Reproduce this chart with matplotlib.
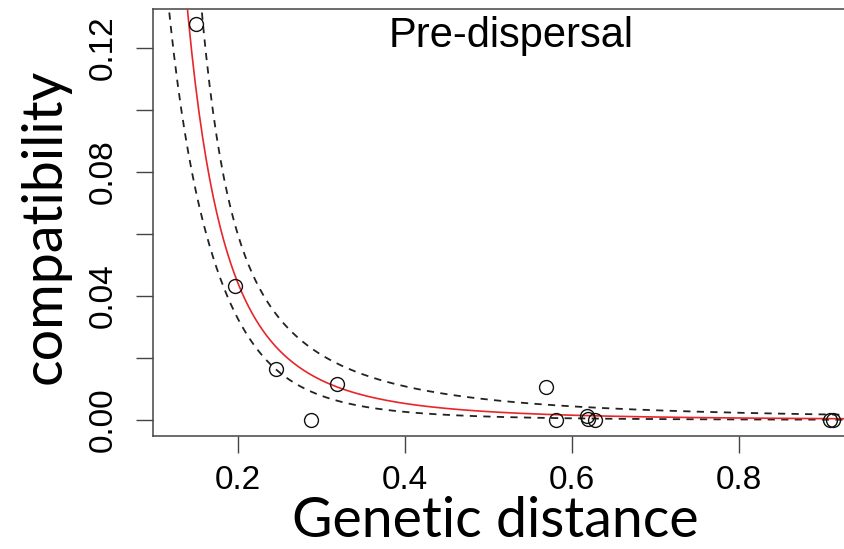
"""
Pre-dispersal compatibility vs genetic distance, power-law fit with CI bands
"""

import numpy as np
import matplotlib
matplotlib.use('Agg')
import matplotlib.pyplot as plt

# observed points
gen_dist = [0.150, 0.196, 0.245, 0.288, 0.319, 0.569, 0.581, 0.618, 0.619, 0.628, 0.909, 0.912]
compat = [0.1277, 0.0431, 0.0165, 0.0, 0.0115, 0.0108, 0.0, 0.0013, 0.0002, 0.0, 0.0, 0.0]

# fitted model on log scale: log(y) = log_a - b * log(x), CI half-width widens from centre m
log_a = -8.03
slope_b = 3.05
ci_w0 = 0.30
ci_k = 0.88
ci_centre = -1.65

x_ticks = [0.2, 0.4, 0.6, 0.8]
y_ticks = [0.00, 0.02, 0.04, 0.06, 0.08, 0.10, 0.12]
y_labels = ['0.00', '', '0.04', '', '0.08', '', '0.12']

W, H = 844, 549
fig = plt.figure(figsize=(W / 100, H / 100), dpi=100, facecolor='white')
ax = fig.add_axes([153 / W, (H - 436) / H, (850 - 153) / W, 427 / H])

# fitted curve and confidence bands
xs = np.linspace(0.10, 0.95, 400)
lx = np.log(xs)
eta = log_a - slope_b * lx
half = np.sqrt(ci_w0 ** 2 + ci_k ** 2 * (lx - ci_centre) ** 2)
ax.plot(xs, np.exp(eta), color='#e8262a', linewidth=1.2, zorder=3)
ax.plot(xs, np.exp(eta + half), color='#222222', linewidth=1.3,
        linestyle=(0, (4, 3.5)), zorder=2)
ax.plot(xs, np.exp(eta - half), color='#222222', linewidth=1.3,
        linestyle=(0, (4, 3.5)), zorder=2)

ax.plot(gen_dist, compat, linestyle='none', marker='o', markersize=10,
        markerfacecolor='none', markeredgecolor='#111111', markeredgewidth=1.0, zorder=4)

ax.set_xlim(0.0982, 0.9329)
ax.set_ylim(-0.00516, 0.13258)

ax.set_xticks(x_ticks)
ax.set_xticklabels(['0.2', '0.4', '0.6', '0.8'])
ax.set_yticks(y_ticks)
ax.set_yticklabels(y_labels, rotation=90, va='center')

for lab in ax.get_xticklabels() + ax.get_yticklabels():
    lab.set_fontfamily('Liberation Sans')
    lab.set_fontsize(24)

ax.tick_params(axis='both', direction='out', length=12, width=1.0, color='#444444')
ax.tick_params(axis='x', pad=9)
ax.tick_params(axis='y', pad=13)

for side in ['left', 'bottom', 'top', 'right']:
    ax.spines[side].set_color('#444444')
    ax.spines[side].set_linewidth(1.1)

# panel title inside the box
ax.text((511.5 - 153) / 697, (436 - 47) / 427, 'Pre-dispersal', transform=ax.transAxes,
        ha='center', va='baseline', fontsize=30, family='Liberation Sans')

# big axis labels
fig.text(495 / W, 2 / H, 'Genetic distance', ha='center', va='bottom',
         fontsize=40, family='Lato')
fig.text(45 / W, 1 - 226 / H, 'compatibility', ha='center', va='center',
         rotation=90, fontsize=40, family='Lato')

plt.savefig('out.png', dpi=100)
plt.close()
